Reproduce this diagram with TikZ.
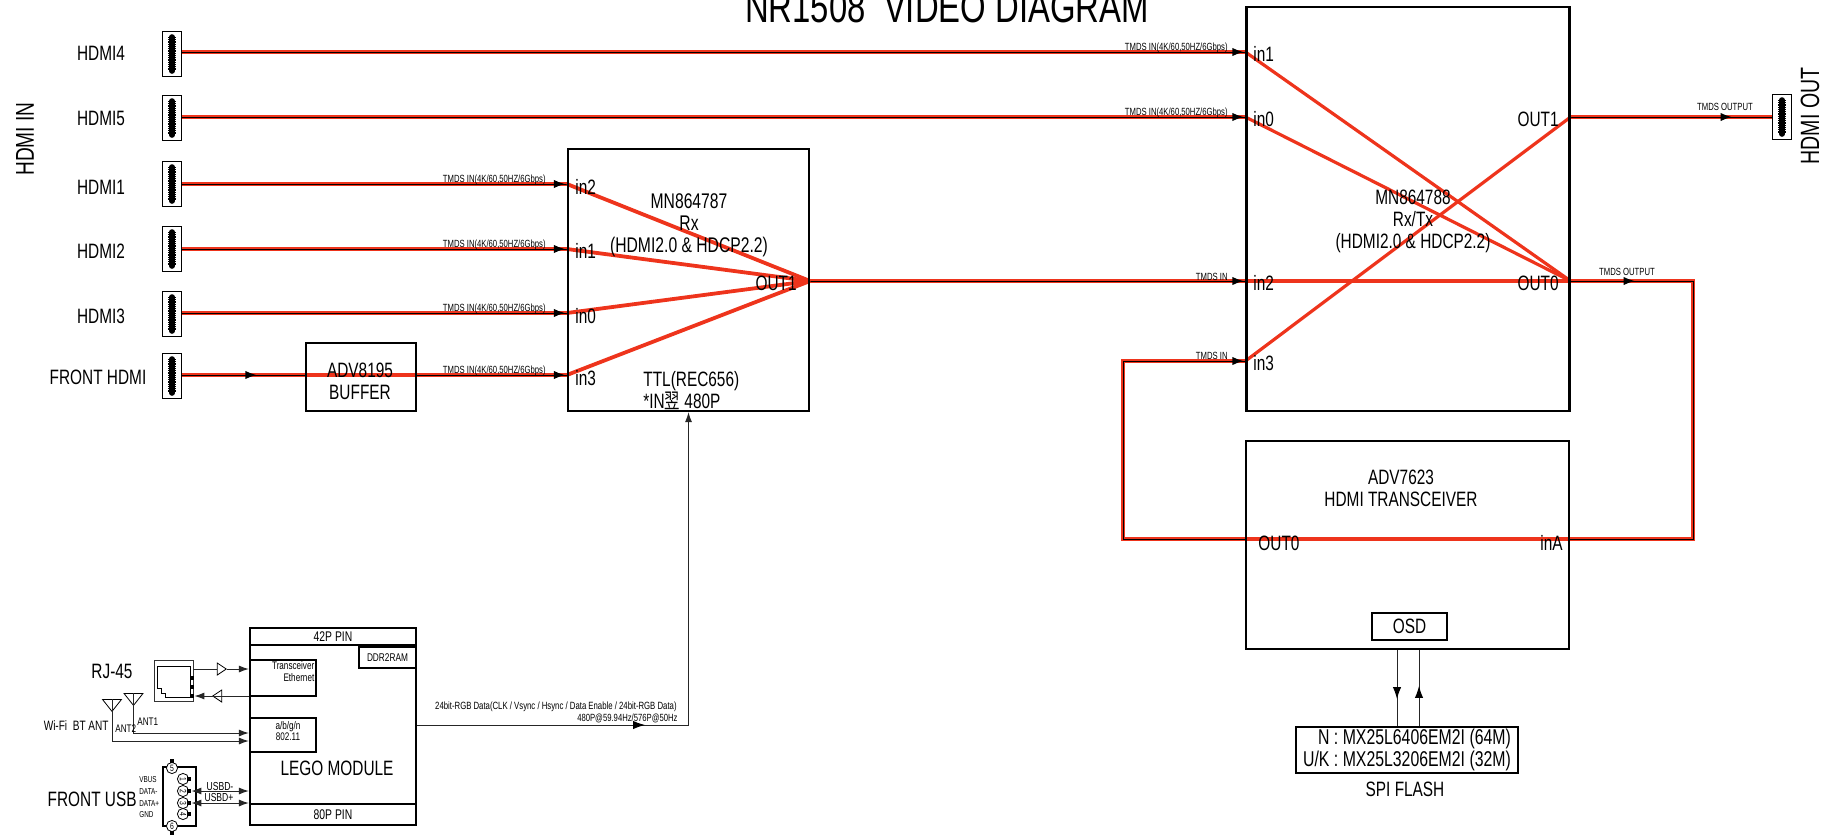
\documentclass[tikz,border=0pt]{standalone}
\usepackage{fontspec}
\setmainfont[FakeStretch=0.74]{Liberation Sans}
\newfontfamily\cjkfont[FakeStretch=0.74]{Noto Sans CJK SC}
\usetikzlibrary{arrows.meta,positioning,backgrounds,decorations.markings,shapes.misc,shapes.geometric}
\definecolor{tmdsred}{RGB}{238,52,28}
\newcommand{\fsz}[2][11]{\fontsize{#2}{#1}\selectfont}
% one HDMI socket: name, centre, cut corners
\newcommand{\hdmisock}[3]{%
  \node[sock, chamfered rectangle corners={#3}] (#1) at (#2) {};
  \draw[combbody] ([yshift=8.5pt]#1.center) -- ([yshift=-8.5pt]#1.center);
  \draw[combteeth] ([yshift=8.5pt]#1.center) -- ([yshift=-8.5pt]#1.center);
}
\tikzset{
  midtip/.style={postaction={decorate,decoration={markings,
      mark=at position #1 with {\arrow[black]{Latex[length=6pt,width=4.2pt]}}}}},
}
\begin{document}
\begin{tikzpicture}[
  x=0.5pt, y=-0.5pt,
  font=\fsz{10.4},
  chip/.style={rectangle, draw=black, line width=1.1pt, inner sep=0pt, align=center},
  sock/.style={chamfered rectangle, chamfered rectangle xsep=2pt, chamfered rectangle ysep=2pt,
               draw=black, line width=0.9pt, inner sep=0pt, minimum width=9.5pt, minimum height=22.5pt},
  combbody/.style={line width=2.8pt, line cap=round},
  combteeth/.style={line width=3.8pt, dash pattern=on 0.4pt off 0.5pt},
  tmds/.style={draw=tmdsred, double=black, line width=0.75pt, double distance=0.5pt},
  xpath/.style={draw=tmdsred, line width=1.9pt},
  xpathb/.style={draw=tmdsred, line width=1.6pt},
  wire/.style={draw=black!85, line width=0.5pt},
  wtip/.style={-{Latex[length=5pt,width=3.5pt]}},
  bitip/.style={{Latex[length=5pt,width=3.5pt]}-{Latex[length=5pt,width=3.5pt]}},
  lbl/.style={inner sep=0pt, text height=7.4pt, text depth=0pt},
  tmdstxt/.style={font=\fsz{5.2}, inner sep=0pt, text height=3.7pt, text depth=0pt},
  smalltxt/.style={font=\fsz[5.7]{5.5}, inner sep=0pt, align=center},
  pintxt/.style={font=\fsz{4.3}, inner sep=0pt, text height=3.1pt, text depth=0pt},
  usbpin/.style={circle, draw=black, fill=white, line width=0.4pt, inner sep=0pt, minimum size=5.6pt, font=\fsz{4.6}},
  padsq/.style={rectangle, fill=black, inner sep=0pt, minimum size=2pt},
  amp/.style={isosceles triangle, isosceles triangle stretches, draw=black, line width=0.4pt, fill=white,
              inner sep=0pt, minimum height=4.5pt, minimum width=6pt},
  ant/.style={isosceles triangle, isosceles triangle stretches, shape border rotate=270, draw=black, line width=0.4pt,
              inner sep=0pt, minimum height=6pt, minimum width=9.5pt}
]
\useasboundingbox (0,0) rectangle (1829,836);
\node[font=\fsz{22.2}, inner sep=0pt, anchor=base] (title) at (947,22) {NR1508\ \ VIDEO DIAGRAM};
\node[font=\fsz{12.9}, rotate=90, inner sep=0pt] (hdmiin) at (25,139) {HDMI IN};
\node[font=\fsz{13.2}, rotate=90, inner sep=0pt] (hdmiout) at (1810,116) {HDMI OUT};
% ---- chips ----
\node[chip, minimum width=120.5pt, minimum height=131pt] (rx) at (688.5,280) {};
\node[chip, minimum width=161.5pt, minimum height=202pt] (tx) at (1408,209) {};
\node[chip, minimum width=161.5pt, minimum height=104pt] (adv) at (1407.5,545) {};
\node[chip, minimum width=55pt, minimum height=34pt] (buf) at (361,377) {};
\node[chip, minimum width=37.5pt, minimum height=13.5pt] (osd) at (1409.5,626.5) {OSD};
\node[chip, font=\fsz{10.7}, minimum width=111pt, minimum height=23pt, align=right] (flash) at (1407,750) {N : MX25L6406EM2I (64M)\\U/K : MX25L3206EM2I (32M)};
\node[inner sep=0pt, below=3.5pt of flash, xshift=-1pt] (spi) {SPI FLASH};
\node[inner sep=0pt, align=center, font=\fsz{10.6}] (rxtxt) at (689,225) {MN864787\\Rx\\(HDMI2.0 \& HDCP2.2)};
\node[inner sep=0pt, align=left, anchor=west] (rxttl) at (643,391) {TTL(REC656)\\*IN{\cjkfont 翌} 480P};
\node[inner sep=0pt, align=center] (txtxt) at (1413,221) {MN864788\\Rx/Tx\\(HDMI2.0 \& HDCP2.2)};
\node[inner sep=0pt, align=center] (advtxt) at (1401,488) {ADV7623\\HDMI TRANSCEIVER};
\node[inner sep=0pt, align=center] (buftxt) at (360,381) {ADV8195\\BUFFER};
% ---- sockets ----
\hdmisock{h4}{172,54}{north east,south east}
\hdmisock{h5}{172,118}{north east,south east}
\hdmisock{h1}{172,184}{north east,south east}
\hdmisock{h2}{172,249}{north east,south east}
\hdmisock{h3}{172,314}{north east,south east}
\hdmisock{hf}{172,376}{north east,south east}
\hdmisock{hout}{1782,117}{north west,south west}
\node[lbl] (l4) at (101,53) {HDMI4};
\node[lbl] (l5) at (101,118) {HDMI5};
\node[lbl] (l1) at (101,187) {HDMI1};
\node[lbl] (l2) at (101,251) {HDMI2};
\node[lbl] (l3) at (101,316) {HDMI3};
\node[lbl] (lf) at (98,377) {FRONT HDMI};
% ---- pin names ----
\node[lbl, anchor=west] (pi2) at (575,187) {in2};
\node[lbl, anchor=west] (pi1) at (575,251) {in1};
\node[lbl, anchor=west] (pi0) at (575,316) {in0};
\node[lbl, anchor=west] (pi3) at (575,378) {in3};
\node[lbl, anchor=east] (po1) at (797,283) {OUT1};
\node[lbl, anchor=west] (qi1) at (1253,54) {in1};
\node[lbl, anchor=west] (qi0) at (1253,119) {in0};
\node[lbl, anchor=west] (qi2) at (1253,283) {in2};
\node[lbl, anchor=west] (qi3) at (1253,363) {in3};
\node[lbl, anchor=east] (qo1) at (1559,119) {OUT1};
\node[lbl, anchor=east] (qo0) at (1559,283) {OUT0};
\node[lbl, anchor=west] (ro0) at (1258,543) {OUT0};
\node[lbl, anchor=east] (rina) at (1563,543) {inA};
% ---- tmds labels ----
\node[tmdstxt, anchor=east] (t1) at (546,179) {TMDS IN(4K/60,50HZ/6Gbps)};
\node[tmdstxt, anchor=east] (t2) at (546,244) {TMDS IN(4K/60,50HZ/6Gbps)};
\node[tmdstxt, anchor=east] (t3) at (546,308) {TMDS IN(4K/60,50HZ/6Gbps)};
\node[tmdstxt, anchor=east] (t4) at (546,370) {TMDS IN(4K/60,50HZ/6Gbps)};
\node[tmdstxt, anchor=east] (t5) at (1228,47) {TMDS IN(4K/60,50HZ/6Gbps)};
\node[tmdstxt, anchor=east] (t6) at (1228,112) {TMDS IN(4K/60,50HZ/6Gbps)};
\node[tmdstxt, anchor=east] (t7) at (1228,277) {TMDS IN};
\node[tmdstxt, anchor=east] (t8) at (1228,356) {TMDS IN};
\node[tmdstxt] (t9) at (1725,107) {TMDS OUTPUT};
\node[tmdstxt] (t10) at (1627,272) {TMDS OUTPUT};
% ---- tmds wires ----
\coordinate (rxin2) at (rx.west |- 0,184);
\coordinate (rxin1) at (rx.west |- 0,249);
\coordinate (rxin0) at (rx.west |- 0,313);
\coordinate (rxin3) at (rx.west |- 0,375);
\coordinate (rxout1) at (rx.east |- 0,281);
\coordinate (txin1) at (tx.west |- 0,52);
\coordinate (txin0) at (tx.west |- 0,117);
\coordinate (txin2) at (tx.west |- 0,281);
\coordinate (txin3) at (tx.west |- 0,361);
\coordinate (txout1) at (tx.east |- 0,117);
\coordinate (txout0) at (tx.east |- 0,281);
\coordinate (advina) at (adv.east |- 0,539);
\coordinate (advout0) at (adv.west |- 0,539);
\coordinate (loopr) at (1693,281);
\coordinate (loopl) at (1123,361);
\begin{scope}[on background layer]
\draw[tmds, midtip=-0.5pt] (h4.east |- txin1) -- (txin1);
\draw[tmds, midtip=-0.5pt] (h5.east |- txin0) -- (txin0);
\draw[tmds, midtip=-0.5pt] (h1.east |- rxin2) -- (rxin2);
\draw[tmds, midtip=-0.5pt] (h2.east |- rxin1) -- (rxin1);
\draw[tmds, midtip=-0.5pt] (h3.east |- rxin0) -- (rxin0);
\draw[tmds, midtip=37.5pt] (hf.east |- rxin3) -- (buf.west |- rxin3);
\draw[xpathb] (buf.west |- rxin3) -- (buf.east |- rxin3);
\draw[tmds, midtip=-0.5pt] (buf.east |- rxin3) -- (rxin3);
\draw[tmds, midtip=-0.5pt] (rxout1) -- (txin2);
\draw[tmds, midtip=-19.5pt] (txout1) -- (hout.west |- txout1);
\draw[tmds, midtip=32.5pt] (txout0) -- (loopr) |- (advina);
\draw[xpathb] (advina) -- (advout0);
\draw[tmds, midtip=-0.5pt] (advout0) -| (loopl) -- (txin3);
\draw[xpath] (rxin2) -- (rxout1);
\draw[xpath] (rxin1) -- (rxout1);
\draw[xpath] (rxin0) -- (rxout1);
\draw[xpath] (rxin3) -- (rxout1);
\draw[xpathb] (txin1) -- (txout0);
\draw[xpathb] (txin0) -- (txout0);
\draw[xpathb] (txin3) -- (txout1);
\draw[xpath] (txin2) -- (txout0);
\end{scope}
% ---- spi flash ----
\draw[wire, midtip=24.5pt] (adv.south -| 1397,0) -- (flash.north -| 1397,0);
\draw[wire, midtip=20pt] (flash.north -| 1419,0) -- (adv.south -| 1419,0);
% ---- lego module ----
\node[chip, minimum width=83pt, minimum height=98.5pt] (lego) at (333,726.5) {};
\node[chip, font=\fsz{7}, minimum width=83pt, minimum height=8.5pt, anchor=north] (pin42) at (lego.north) {42P PIN};
\node[chip, font=\fsz{7}, minimum width=83pt, minimum height=10.5pt, anchor=south] (pin80) at (lego.south) {80P PIN};
\node[chip, font=\fsz{5.6}, minimum width=28.5pt, minimum height=10.5pt, anchor=north east] (ddr) at (pin42.south east) {DDR2RAM};
\node[chip, minimum width=33pt, minimum height=18pt, anchor=west] (eth) at (lego.west |- 0,678) {};
\node[chip, minimum width=33pt, minimum height=17pt, anchor=west] (wifi) at (lego.west |- 0,735) {};
\node[smalltxt, align=right, anchor=north east] (ethtxt) at ([xshift=-1.2pt,yshift=-1.2pt]eth.north east) {Transceiver\\Ethernet};
\node[smalltxt] (wifitxt) at (288,731) {a/b/g/n\\802.11};
\node[inner sep=0pt] (legotxt) at (337,768) {LEGO MODULE};
\draw[wire, wtip, midtip=114pt] (lego.east |- 0,725) -| (rx.south);
\node[tmdstxt, font=\fsz{5.25}, anchor=east] (rgb1) at (677,706) {24bit-RGB Data(CLK / Vsync / Hsync / Data Enable / 24bit-RGB Data)};
\node[tmdstxt, anchor=east] (rgb2) at (678,718) {480P@59.94Hz/576P@50Hz};
% ---- rj-45 ----
\node[lbl] (rjl) at (112,671) {RJ-45};
\node[rectangle, draw=black!80, line width=0.4pt, minimum width=19.5pt, minimum height=20.5pt, inner sep=0pt] (jack) at (173.5,680.5) {};
\draw[line width=0.4pt] (157,666) -- (190,666) -- (190,697) -- (165,697) -- (165,693) -- (161,693) -- (161,688) -- (157,688) -- cycle;
\node[padsq] (jp1) at (192,678) {};
\node[padsq] (jp2) at (192,687) {};
\node[padsq] (jp3) at (192,696) {};
\node[amp] (ampt) at (220.5,669) {};
\node[amp, shape border rotate=180] (ampb) at (218.5,696) {};
\draw[wire] (jack.east |- ampt) -- (ampt.west);
\draw[wire, wtip] (ampt.east) -- (lego.west |- ampt);
\draw[wire] (lego.west |- ampb) -- (ampb.west);
\draw[wire, wtip] (ampb.east) -- (jp3);
% ---- antennas ----
\node[ant, anchor=north] (antw) at (112,699) {};
\node[ant, anchor=north] (antb) at (133.5,693) {};
\draw[wire, wtip] (antb.north) |- (lego.west |- 0,733);
\draw[wire, wtip] (antw.north) |- (lego.west |- 0,741);
\node[inner sep=0pt, font=\fsz{6.8}, anchor=east] (wifil) at (109,726) {Wi-Fi\ \ BT ANT};
\node[smalltxt, anchor=west] (ant2) at (115,729) {ANT2};
\node[smalltxt, anchor=west] (ant1) at (137,722) {ANT1};
% ---- front usb ----
\node[lbl, anchor=east] (usbl) at (137,799) {FRONT USB};
\node[rectangle, draw=black, line width=0.7pt, inner sep=0pt, minimum width=16.5pt, minimum height=29.5pt] (usbbox) at (179.5,796.5) {};
\node[usbpin] (p5) at (172,768) {5};
\node[usbpin] (p6) at (172,826) {6};
\node[padsq] (q5) at (172,761) {};
\node[padsq] (q6) at (172,833) {};
\foreach \n/\y/\s in {1/779/VBUS,2/791/DATA-,3/803/DATA+,4/814/GND}{
  \node[usbpin, rotate=-90] (p\n) at (183,\y) {\n};
  \node[padsq] (q\n) at (189,\y) {};
  \node[pintxt, anchor=west] (s\n) at (139,\y) {\s};
}
\draw[wire, bitip] (q2) -- (lego.west |- q2);
\draw[wire, bitip] (q3) -- (lego.west |- q3);
\node[tmdstxt, font=\fsz{5.8}] (ud) at (220,787) {USBD-};
\node[tmdstxt, font=\fsz{5.8}] (up) at (219,798) {USBD+};
\end{tikzpicture}
\end{document}
